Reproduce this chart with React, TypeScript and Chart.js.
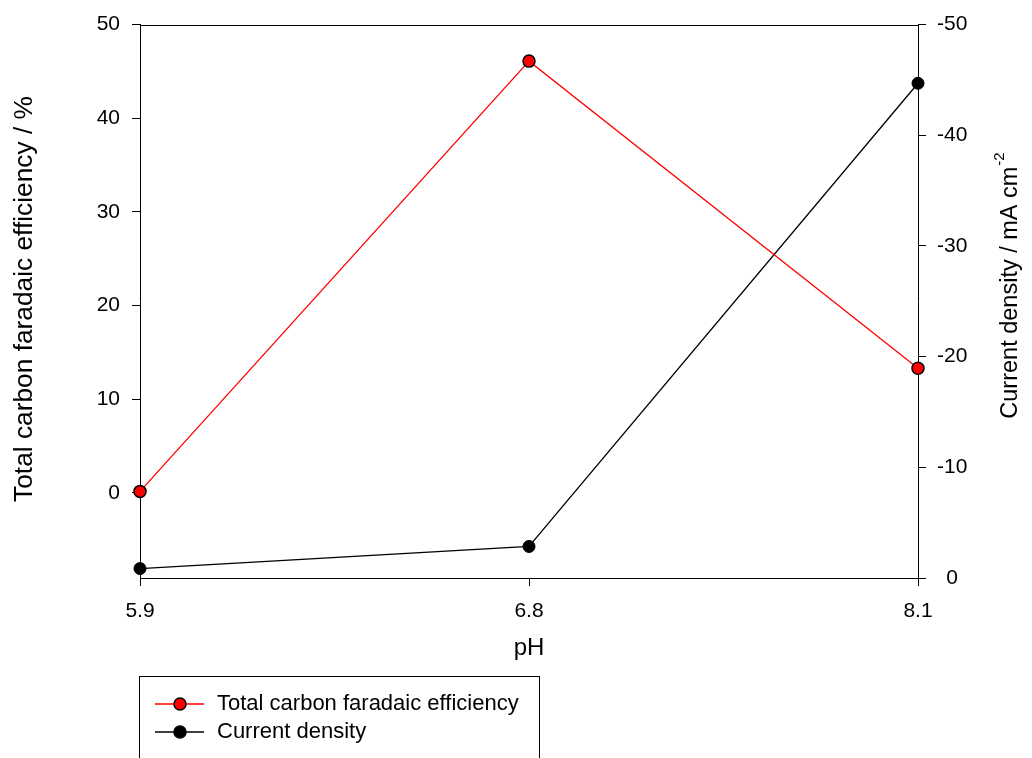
import React, { useEffect, useRef } from 'react';
import { Chart, registerables } from 'chart.js';

Chart.register(...registerables);

const categories = ['5.9', '6.8', '8.1'];
const efficiency = [0.15, 46.1, 13.3];
const currentDensity = [-0.85, -2.85, -44.7];
const leftTicks = [0, 10, 20, 30, 40, 50];
const seriesLabels = ['Total carbon faradaic efficiency', 'Current density'];
const xTitle = 'pH';
const leftTitle = 'Total carbon faradaic efficiency / %';
const rightTitle = 'Current density / mA cm';
const rightTitleSup = '-2';

const FONT = '"Liberation Sans", Arial, sans-serif';
const W = 1032;
const H = 758;

const decor = {
  id: 'decor',
  afterDraw(chart: any) {
    const { ctx, chartArea: a } = chart;
    ctx.save();
    ctx.strokeStyle = '#000';
    ctx.lineWidth = 1;
    ctx.beginPath();
    ctx.moveTo(a.left, Math.round(a.top) + 0.5);
    ctx.lineTo(a.right, Math.round(a.top) + 0.5);
    ctx.stroke();

    ctx.fillStyle = '#000';
    ctx.font = `24px ${FONT}`;
    ctx.textAlign = 'center';
    ctx.textBaseline = 'middle';
    ctx.fillText(xTitle, (a.left + a.right) / 2, 648);

    // left title
    ctx.save();
    ctx.translate(25, 299);
    ctx.rotate(-Math.PI / 2);
    ctx.font = `26.3px ${FONT}`;
    ctx.fillText(leftTitle, 0, 0);
    ctx.restore();

    // right title with superscript
    ctx.save();
    ctx.translate(1011, 286);
    ctx.rotate(-Math.PI / 2);
    ctx.font = `23.5px ${FONT}`;
    const wMain = ctx.measureText(rightTitle).width;
    ctx.font = `15px ${FONT}`;
    const wSup = ctx.measureText(rightTitleSup).width;
    const start = -(wMain + wSup) / 2;
    ctx.textAlign = 'left';
    ctx.font = `23.5px ${FONT}`;
    ctx.fillText(rightTitle, start, 0);
    ctx.font = `15px ${FONT}`;
    ctx.fillText(rightTitleSup, start + wMain + 1, -11);
    ctx.restore();

    // legend box
    ctx.lineWidth = 1;
    ctx.strokeRect(139.5, 676.5, 400, 120);
    const rows = [704, 732];
    chart.data.datasets.forEach((ds: any, i: number) => {
      const y = rows[i];
      ctx.strokeStyle = ds.borderColor;
      ctx.lineWidth = 1.3;
      ctx.beginPath();
      ctx.moveTo(155, y);
      ctx.lineTo(204, y);
      ctx.stroke();
      ctx.beginPath();
      ctx.arc(180, y, 6, 0, Math.PI * 2);
      ctx.fillStyle = ds.pointBackgroundColor;
      ctx.fill();
      ctx.strokeStyle = ds.pointBorderColor;
      ctx.lineWidth = 1.5;
      ctx.stroke();
      ctx.fillStyle = '#000';
      ctx.font = `22px ${FONT}`;
      ctx.textAlign = 'left';
      ctx.textBaseline = 'middle';
      ctx.fillText(ds.label, 217, y);
    });
    ctx.restore();
  },
};

export default function App() {
  const ref = useRef<HTMLCanvasElement>(null);
  useEffect(() => {
    if (!ref.current) return;
    const tickFont = { family: FONT, size: 21 };
    const gridCfg = {
      display: true,
      drawOnChartArea: false,
      drawTicks: true,
      tickLength: 8,
      color: '#000',
      lineWidth: 1,
    };
    const borderCfg = { display: true, color: '#000', width: 1 };
    const chart = new Chart(ref.current, {
      type: 'line',
      data: {
        labels: categories,
        datasets: [
          {
            label: seriesLabels[0],
            data: efficiency,
            yAxisID: 'y',
            borderColor: '#ff0000',
            backgroundColor: '#ff0000',
            pointBackgroundColor: '#ff0000',
            pointBorderColor: '#000000',
            pointBorderWidth: 1.5,
            pointRadius: 6,
            borderWidth: 1.3,
            tension: 0,
            clip: false,
          },
          {
            label: seriesLabels[1],
            data: currentDensity,
            yAxisID: 'y1',
            borderColor: '#000000',
            backgroundColor: '#000000',
            pointBackgroundColor: '#000000',
            pointBorderColor: '#000000',
            pointBorderWidth: 1,
            pointRadius: 6,
            borderWidth: 1.3,
            tension: 0,
            clip: false,
          },
        ],
      },
      options: {
        responsive: false,
        animation: false,
        layout: { padding: { top: 22, left: 0, right: 0, bottom: 0 } },
        plugins: { legend: { display: false }, tooltip: { enabled: false } },
        scales: {
          x: {
            type: 'category',
            offset: false,
            grid: { ...gridCfg, offset: false },
            border: borderCfg,
            ticks: { color: '#000', font: tickFont, padding: 13, maxRotation: 0 },
            afterFit: (s: any) => {
              s.height = 180;
            },
          },
          y: {
            position: 'left',
            min: -9.1,
            max: 50,
            afterBuildTicks: (s: any) => {
              s.ticks = leftTicks.map((v) => ({ value: v }));
            },
            grid: gridCfg,
            border: borderCfg,
            ticks: { color: '#000', font: tickFont, padding: 12 },
            afterFit: (s: any) => {
              s.width = 140;
            },
          },
          y1: {
            position: 'right',
            min: -50,
            max: 0,
            reverse: true,
            grid: gridCfg,
            border: borderCfg,
            ticks: { color: '#000', font: tickFont, padding: 11, stepSize: 10, crossAlign: 'center' },
            afterFit: (s: any) => {
              s.width = 114;
            },
          },
        },
      },
      plugins: [decor],
    } as any);
    return () => chart.destroy();
  }, []);
  return (
    <div style={{ position: 'absolute', left: 0, top: 0, width: W, height: H, background: '#fff' }}>
      <canvas ref={ref} width={W} height={H} style={{ display: 'block' }} />
    </div>
  );
}
